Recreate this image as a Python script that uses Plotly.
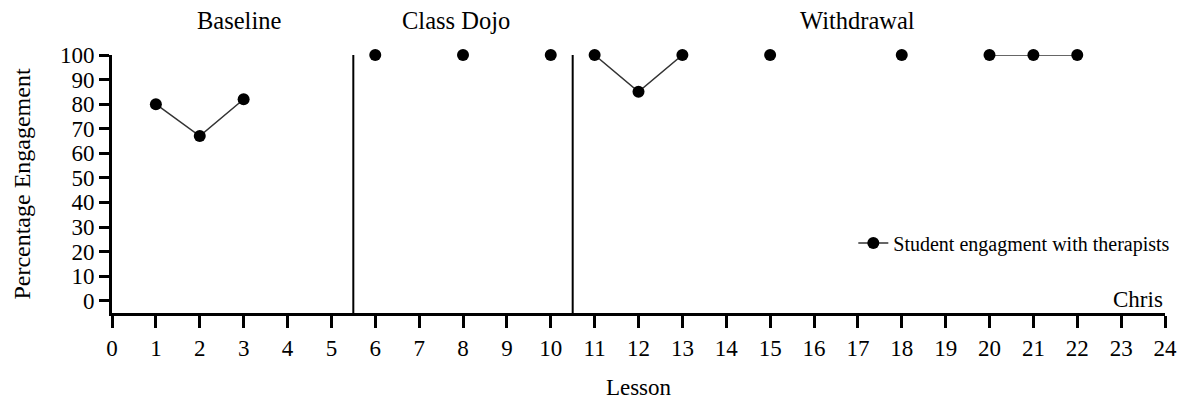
import plotly.graph_objects as go

lessons = [1, 2, 3, 6, 8, 10, 11, 12, 13, 15, 18, 20, 21, 22]
engagement = [80, 67, 82, 100, 100, 100, 100, 85, 100, 100, 100, 100, 100, 100]
phase_changes = [5.5, 10.5]
phase_labels = ["Baseline", "Class Dojo", "Withdrawal"]
phase_label_x = [2.9, 7.83, 17.0]
x_ticks = list(range(0, 25))
y_ticks = list(range(0, 101, 10))

# break the line where lessons are not consecutive or a phase change occurs
xs, ys = [], []
for i, (l, v) in enumerate(zip(lessons, engagement)):
    if i > 0:
        prev = lessons[i - 1]
        crosses = any(prev < p < l for p in phase_changes)
        if l - prev > 1 or crosses:
            xs.append(None)
            ys.append(None)
    xs.append(l)
    ys.append(v)

FONT = "Liberation Serif"

fig = go.Figure()
fig.add_trace(go.Scatter(
    x=xs, y=ys, mode="lines+markers",
    name="Student engagment with therapists",
    line=dict(color="#333333", width=1.5),
    marker=dict(color="black", size=12),
    connectgaps=False, cliponaxis=False,
))

for xc in phase_changes:
    fig.add_shape(type="line", x0=xc, x1=xc, y0=-5, y1=100,
                  xref="x", yref="y", line=dict(color="black", width=2))

for lab, lx in zip(phase_labels, phase_label_x):
    fig.add_annotation(x=lx, y=1.0, xref="x", yref="paper", yshift=35,
                       text=lab, showarrow=False, yanchor="middle",
                       font=dict(family=FONT, size=24.5, color="black"))

fig.add_annotation(x=1.0, y=0.0, xref="paper", yref="paper",
                   xanchor="right", yanchor="middle", yshift=14,
                   text="Chris", showarrow=False,
                   font=dict(family=FONT, size=23, color="black"))

fig.update_layout(
    width=1187, height=403,
    margin=dict(l=112, r=22, t=55, b=90),
    paper_bgcolor="white", plot_bgcolor="white",
    font=dict(family=FONT, size=23, color="black"),
    showlegend=True,
    legend=dict(x=0.704, y=0.271, xanchor="left", yanchor="middle",
                font=dict(family=FONT, size=20, color="black"),
                bgcolor="rgba(0,0,0,0)"),
    xaxis=dict(range=[0, 24], tickvals=x_ticks, ticktext=[str(t) for t in x_ticks],
               showgrid=False, zeroline=False, showline=True, linecolor="black",
               linewidth=3, ticks="outside", ticklen=12, tickwidth=2.5,
               tickcolor="black", automargin=False,
               title=dict(text="Lesson", standoff=20, font=dict(size=23)),
               tickfont=dict(size=23)),
    yaxis=dict(range=[-5, 100], tickvals=y_ticks, ticktext=[str(t) for t in y_ticks],
               showgrid=False, zeroline=False, showline=True, linecolor="black",
               linewidth=3, ticks="outside", ticklen=10, tickwidth=2.5,
               tickcolor="black", automargin=False,
               title=dict(text="Percentage Engagement", standoff=23, font=dict(size=24)),
               tickfont=dict(size=23)),
)

fig.write_html("out.html",
               config={"displayModeBar": False},
               post_script="document.body.style.margin='0';document.body.style.padding='0';")
